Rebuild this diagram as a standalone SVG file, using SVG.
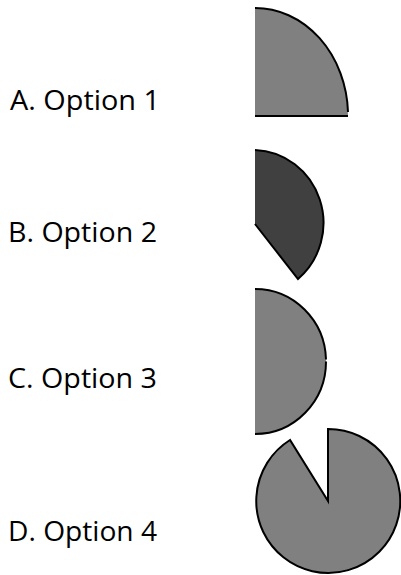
<svg xmlns="http://www.w3.org/2000/svg" width="401" height="575" viewBox="0 0 401 575">
<style>
.lbl{font-family:"Open Sans","Liberation Sans",sans-serif;font-size:27px;fill:#000}
.fillg{fill:#808080;stroke:none}
.filld{fill:#404040;stroke:none}
.edge{fill:none;stroke:#000;stroke-width:2;stroke-linejoin:miter}
</style>
<rect width="401" height="575" fill="#fff"/>
<g id="optionA">
<text class="lbl" x="10" y="110" textLength="150" lengthAdjust="spacingAndGlyphs">A. Option 1</text>
<path class="fillg" d="M255,8 A93,108 0 0 1 348,116 L255,116 Z"/>
<path class="edge" d="M255,8 A93,108 0 0 1 348,112"/>
<line class="edge" x1="255" y1="116" x2="348" y2="116"/>
</g>
<g id="optionB">
<text class="lbl" x="8" y="242" textLength="149" lengthAdjust="spacingAndGlyphs">B. Option 2</text>
<path class="filld" d="M255,150 A71,73 0 0 1 298,279 L255,224 Z"/>
<path class="edge" d="M255,150 A71,73 0 0 1 298,279 L255,224"/>
</g>
<g id="optionC">
<text class="lbl" x="8" y="388" textLength="149" lengthAdjust="spacingAndGlyphs">C. Option 3</text>
<path class="fillg" d="M255,289 A71,72.5 0 0 1 255,434 Z"/>
<path class="edge" d="M255,289 A71,72.5 0 0 1 326,359.5"/>
<path class="edge" d="M326,361.5 A71,72.5 0 0 1 255,434"/>
</g>
<g id="optionD">
<text class="lbl" x="8" y="541" textLength="149" lengthAdjust="spacingAndGlyphs">D. Option 4</text>
<path class="fillg" d="M328,501 L328,429 A72,72 0 1 1 290,440 Z"/>
<path class="edge" d="M328,501 L328,429 A72,72 0 1 1 290,440 Z"/>
</g>
</svg>
